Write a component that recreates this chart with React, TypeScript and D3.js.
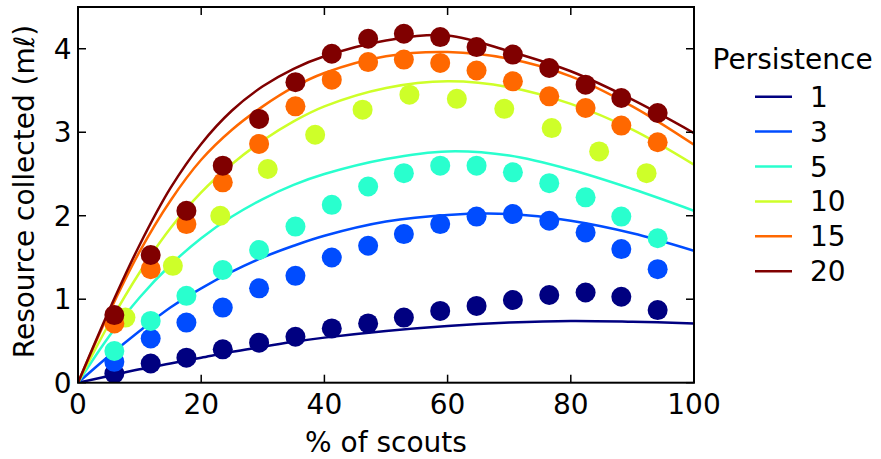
import React from "react";
import * as d3 from "d3";

const W = 881;
const H = 459;

const persistence = ["1", "3", "5", "10", "15", "20"];
const colors = ["#000080", "#004cff", "#29ffce", "#ceff29", "#ff6800", "#800000"];

const xSim = [5.9, 11.8, 17.6, 23.5, 29.4, 35.3, 41.2, 47.1, 52.9, 58.8, 64.7, 70.6, 76.5, 82.4, 88.2, 94.1];
const xSimB = [7.7, 15.4, 23.1, 30.8, 38.5, 46.2, 53.8, 61.5, 69.2, 76.9, 84.6, 92.3];

const sim1 = [0.11, 0.23, 0.30, 0.40, 0.48, 0.55, 0.65, 0.71, 0.78, 0.86, 0.92, 0.99, 1.05, 1.08, 1.03, 0.87];
const sim3 = [0.25, 0.53, 0.72, 0.90, 1.13, 1.28, 1.50, 1.64, 1.78, 1.90, 1.99, 2.02, 1.94, 1.80, 1.60, 1.36];
const sim5 = [0.38, 0.74, 1.04, 1.35, 1.59, 1.87, 2.13, 2.35, 2.51, 2.60, 2.60, 2.52, 2.39, 2.22, 1.99, 1.73];
const sim10 = [0.78, 1.40, 2.00, 2.56, 2.97, 3.27, 3.45, 3.40, 3.28, 3.05, 2.77, 2.51];
const sim15 = [0.71, 1.36, 1.90, 2.40, 2.86, 3.31, 3.63, 3.84, 3.87, 3.83, 3.74, 3.61, 3.43, 3.29, 3.08, 2.88];
const sim20 = [0.81, 1.53, 2.06, 2.60, 3.16, 3.60, 3.94, 4.12, 4.18, 4.14, 4.02, 3.93, 3.77, 3.57, 3.41, 3.23];

const xTheory = [0, 5, 10, 15, 20, 25, 30, 35, 40, 50, 60, 70, 80, 90, 100];
const th1 = [0, 0.08, 0.16, 0.23, 0.30, 0.37, 0.43, 0.49, 0.54, 0.62, 0.68, 0.72, 0.74, 0.73, 0.71];
const th3 = [0, 0.32, 0.62, 0.90, 1.13, 1.33, 1.50, 1.64, 1.76, 1.93, 2.01, 2.02, 1.94, 1.79, 1.58];
const th5 = [0, 0.55, 1.02, 1.41, 1.73, 1.99, 2.20, 2.37, 2.50, 2.68, 2.77, 2.72, 2.55, 2.32, 2.06];
const th10 = [0, 0.70, 1.32, 1.85, 2.28, 2.62, 2.90, 3.13, 3.31, 3.53, 3.61, 3.54, 3.34, 3.03, 2.61];
const th15 = [0, 0.83, 1.57, 2.18, 2.67, 3.03, 3.31, 3.54, 3.71, 3.91, 3.96, 3.88, 3.67, 3.31, 2.85];
const th20 = [0, 0.86, 1.65, 2.33, 2.86, 3.26, 3.55, 3.76, 3.91, 4.10, 4.16, 3.97, 3.73, 3.39, 2.99];

const simX = [xSim, xSim, xSim, xSimB, xSim, xSim];
const simY = [sim1, sim3, sim5, sim10, sim15, sim20];
const thY = [th1, th3, th5, th10, th15, th20];

const xTicks = [0, 20, 40, 60, 80, 100];
const yTicks = [0, 1, 2, 3, 4];

const FONT = "'DejaVu Sans', sans-serif";
const FS = 28;

export default function App() {
  const m = { left: 78, right: 694, top: 7, bottom: 382.7 };
  const x = d3.scaleLinear().domain([0, 100]).range([m.left, m.right]);
  const y = d3.scaleLinear().domain([0, 4.5]).range([m.bottom, m.top]);
  const line = d3
    .line<[number, number]>()
    .x((d) => x(d[0]))
    .y((d) => y(d[1]))
    .curve(d3.curveCatmullRom.alpha(0.5));

  const tickLen = 8;
  const legX1 = 755;
  const legX2 = 792;
  const legY0 = 96.7;
  const legDy = 34.9;

  return (
    <svg
      width={W}
      height={H}
      style={{ position: "absolute", left: 0, top: 0, background: "#fff" }}
      fontFamily={FONT}
    >
      <defs>
        <clipPath id="plotclip">
          <rect x={m.left} y={m.top} width={m.right - m.left} height={m.bottom - m.top} />
        </clipPath>
      </defs>
      <g clipPath="url(#plotclip)">
        {persistence.map((p, i) => (
          <g key={p}>
            <path
              d={line(xTheory.map((xv, j) => [xv, thY[i][j]] as [number, number])) || ""}
              fill="none"
              stroke={colors[i]}
              strokeWidth={2.5}
            />
            {simX[i].map((xv, j) => (
              <circle key={j} cx={x(xv)} cy={y(simY[i][j])} r={10} fill={colors[i]} />
            ))}
          </g>
        ))}
      </g>
      <rect
        x={m.left}
        y={m.top}
        width={m.right - m.left}
        height={m.bottom - m.top}
        fill="none"
        stroke="#000"
        strokeWidth={2}
      />
      {xTicks.map((t) => (
        <g key={"x" + t}>
          <line x1={x(t)} x2={x(t)} y1={m.bottom} y2={m.bottom - tickLen} stroke="#000" strokeWidth={1.5} />
          <line x1={x(t)} x2={x(t)} y1={m.top} y2={m.top + tickLen} stroke="#000" strokeWidth={1.5} />
          <text x={x(t)} y={414} textAnchor="middle" fontSize={FS} fill="#000">
            {t}
          </text>
        </g>
      ))}
      {yTicks.map((t) => (
        <g key={"y" + t}>
          <line x1={m.left} x2={m.left + tickLen} y1={y(t)} y2={y(t)} stroke="#000" strokeWidth={1.5} />
          <line x1={m.right} x2={m.right - tickLen} y1={y(t)} y2={y(t)} stroke="#000" strokeWidth={1.5} />
          <text x={71.5} y={y(t) + 10} textAnchor="end" fontSize={FS} fill="#000">
            {t}
          </text>
        </g>
      ))}
      <text x={(m.left + m.right) / 2} y={451.5} textAnchor="middle" fontSize={FS} fill="#000">
        % of scouts
      </text>
      <text
        transform={`translate(34, 191.5) rotate(-90)`}
        textAnchor="middle"
        fontSize={FS}
        fill="#000"
      >
        Resource collected (m<tspan fontStyle="italic">ℓ</tspan>)
      </text>
      <text x={712.5} y={69} fontSize={FS} fill="#000">
        Persistence
      </text>
      {persistence.map((p, i) => (
        <g key={"leg" + p}>
          <line
            x1={legX1}
            x2={legX2}
            y1={legY0 + i * legDy}
            y2={legY0 + i * legDy}
            stroke={colors[i]}
            strokeWidth={2.5}
          />
          <text x={810} y={legY0 + i * legDy + 10} fontSize={FS} fill="#000">
            {p}
          </text>
        </g>
      ))}
    </svg>
  );
}
